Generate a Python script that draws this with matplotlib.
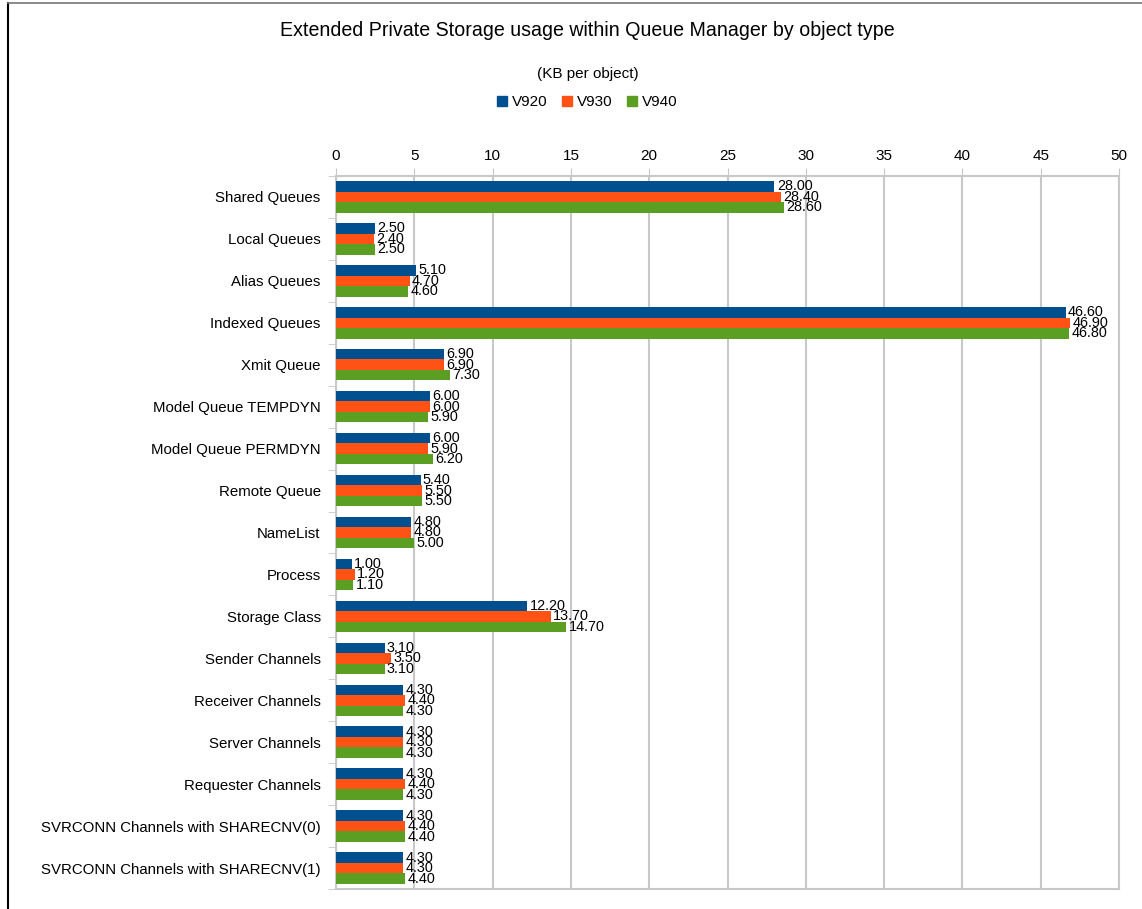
import numpy as np
import matplotlib.pyplot as plt
from matplotlib.lines import Line2D

plt.rcParams['font.family'] = ['Liberation Sans', 'DejaVu Sans']

categories = ["Shared Queues", "Local Queues", "Alias Queues", "Indexed Queues",
              "Xmit Queue", "Model Queue TEMPDYN", "Model Queue PERMDYN",
              "Remote Queue", "NameList", "Process", "Storage Class",
              "Sender Channels", "Receiver Channels", "Server Channels",
              "Requester Channels", "SVRCONN Channels with SHARECNV(0)",
              "SVRCONN Channels with SHARECNV(1)"]
v920 = [28.0, 2.5, 5.1, 46.6, 6.9, 6.0, 6.0, 5.4, 4.8, 1.0, 12.2, 3.1, 4.3, 4.3, 4.3, 4.3, 4.3]
v930 = [28.4, 2.4, 4.7, 46.9, 6.9, 6.0, 5.9, 5.5, 4.8, 1.2, 13.7, 3.5, 4.4, 4.3, 4.4, 4.4, 4.3]
v940 = [28.6, 2.5, 4.6, 46.8, 7.3, 5.9, 6.2, 5.5, 5.0, 1.1, 14.7, 3.1, 4.3, 4.3, 4.3, 4.4, 4.4]
series = ["V920", "V930", "V940"]
colors = ["#004f8f", "#ff5214", "#5a9f22"]

W, H = 1142, 909
fig = plt.figure(figsize=(W / 100, H / 100), dpi=100)
ax = fig.add_axes([336 / W, 1 - 889 / H, (1119 - 336) / W, (889 - 176) / H])

n = len(categories)
y = np.arange(n)
bh = 0.25
for i, (vals, c) in enumerate(zip([v920, v930, v940], colors)):
    pos = y + (i - 1) * bh
    ax.barh(pos, vals, height=bh, color=c, edgecolor="none", zorder=3)
    for p, v in zip(pos, vals):
        ax.text(v + 0.15, p, f"{v:.2f}", va="center", ha="left",
                fontsize=10.4, color="black", zorder=4)

ax.set_xlim(0, 50)
ax.set_ylim(n - 0.5, -0.5)
ax.set_xticks(np.arange(0, 51, 5))
ax.xaxis.tick_top()
ax.tick_params(axis="x", length=6, color="#c8c8c8", labelsize=11, pad=3)
ax.set_yticks(y)
ax.set_yticklabels(categories, fontsize=10.8)
ax.tick_params(axis="y", length=0, pad=11)
# small ticks between categories
ax.set_yticks(np.arange(-0.5, n, 1), minor=True)
ax.tick_params(axis="y", which="minor", length=6, color="#c8c8c8")
ax.grid(axis="x", color="#c8c8c8", linewidth=1.5, zorder=0)
for s in ax.spines.values():
    s.set_color("#c8c8c8")
    s.set_linewidth(1.5)

fig.text(587 / W, 1 - 30 / H, "Extended Private Storage usage within Queue Manager by object type",
         ha="center", va="center", fontsize=14.1)
fig.text(588 / W, 1 - 74 / H, "(KB per object)", ha="center", va="center", fontsize=11)

handles = [Line2D([], [], marker="s", linestyle="none", markersize=7, color=c) for c in colors]
fig.legend(handles, series, loc="center", bbox_to_anchor=(587 / W, 1 - 102 / H),
           ncol=3, frameon=False, fontsize=11, handlelength=0.7,
           handletextpad=0.3, columnspacing=0.9)

# outer frame lines
fig.add_artist(Line2D([8 / W, 8 / W], [0, 1 - 3 / H], color="black", linewidth=1.5))
fig.add_artist(Line2D([8 / W, 1], [1 - 3 / H, 1 - 3 / H], color="#777777", linewidth=1.2))

fig.savefig("out.png", dpi=100)
